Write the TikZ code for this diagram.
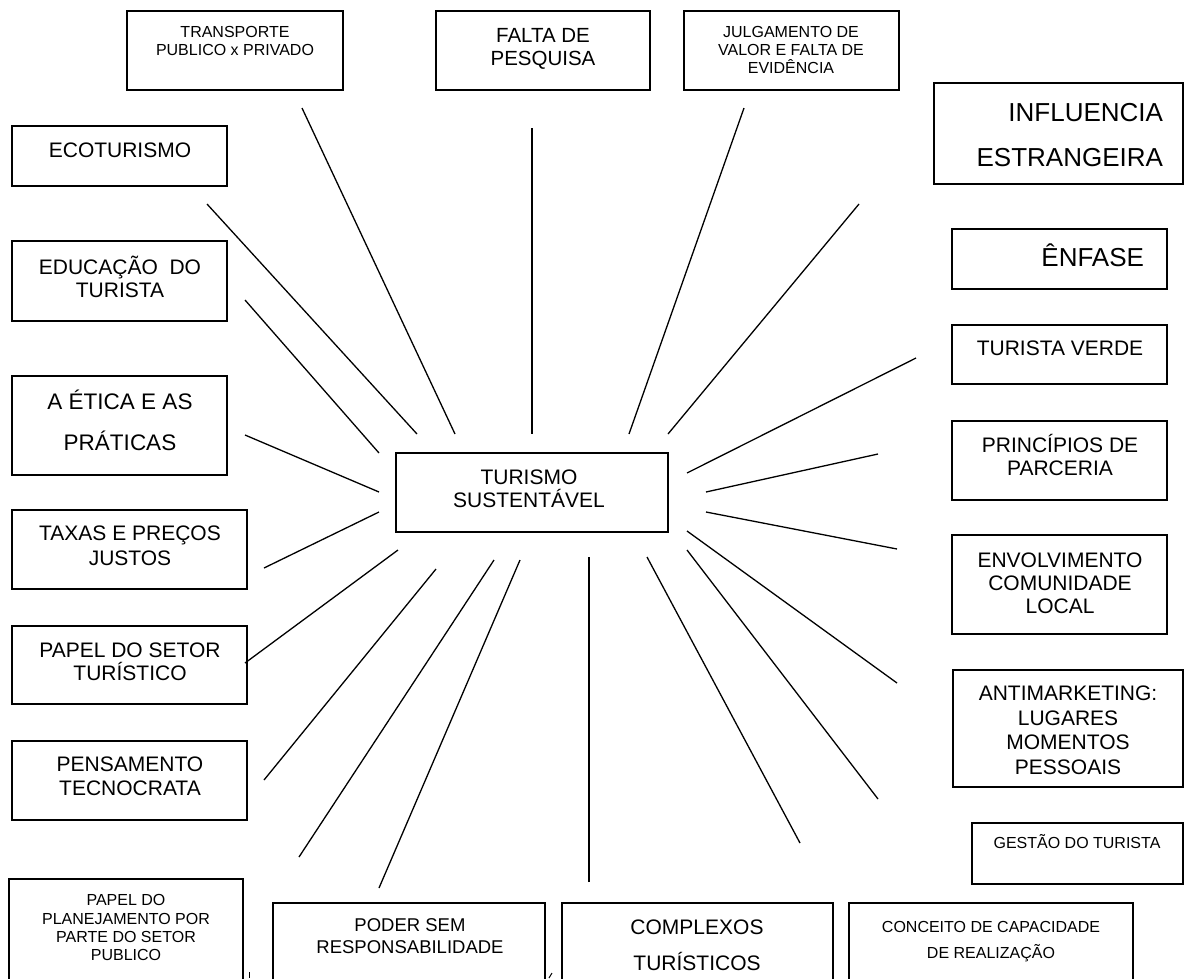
\documentclass[tikz,border=0pt]{standalone}
\usepackage{fontspec}
\setmainfont{Liberation Sans}
\begin{document}
\begin{tikzpicture}[x=1pt,y=-1pt,
  box/.style={draw=black, line width=2pt, rectangle, inner sep=0pt, outer sep=0pt, anchor=north west, fill=white},
  txt/.style={anchor=base, inner sep=0pt, outer sep=0pt, text=black},
  spoke/.style={draw=black, line width=1.3pt},
  tick/.style={draw=black, line width=1pt}]

\useasboundingbox (0,0) rectangle (1186,978);
\fill[white] (0,0) rectangle (1186,978);
\clip (0,0) rectangle (1186,978);

% one text line per node, starting from the first baseline
\newcommand{\boxtext}[7][]{%
  \foreach \ln [count=\k] in {#7} {
    \node[txt,#1,font=\fontsize{#6}{#6}\selectfont] (#2-\k) at (#3, {#4+(\k-1)*#5}) {\ln};
  }}

% ---------- boxes ----------
\node[box, minimum width=216pt, minimum height=79pt]  (trans)  at (127,11)  {};
\node[box, minimum width=214pt, minimum height=79pt]  (falta)  at (436,11)  {};
\node[box, minimum width=215pt, minimum height=79pt]  (julg)   at (684,11)  {};
\node[box, minimum width=249pt, minimum height=101pt] (infl)   at (934,83)  {};
\node[box, minimum width=215pt, minimum height=60pt]  (enf)    at (952,229) {};
\node[box, minimum width=215pt, minimum height=59pt]  (verde)  at (952,325) {};
\node[box, minimum width=215pt, minimum height=79pt]  (parc)   at (952,421) {};
\node[box, minimum width=215pt, minimum height=99pt]  (envol)  at (952,535) {};
\node[box, minimum width=230pt, minimum height=117pt] (anti)   at (953,670) {};
\node[box, minimum width=211pt, minimum height=61pt]  (gest)   at (972,823) {};
\node[box, minimum width=284pt, minimum height=90pt]  (conc)   at (849,903) {};
\node[box, minimum width=271pt, minimum height=90pt]  (compl)  at (562,903) {};
\node[box, minimum width=272pt, minimum height=90pt]  (poder)  at (273,903) {};
\node[box, minimum width=234pt, minimum height=110pt] (plan)   at (9,879)   {};
\node[box, minimum width=235pt, minimum height=79pt]  (pens)   at (12,741)  {};
\node[box, minimum width=235pt, minimum height=78pt]  (papel)  at (12,626)  {};
\node[box, minimum width=235pt, minimum height=79pt]  (taxas)  at (12,510)  {};
\node[box, minimum width=215pt, minimum height=99pt]  (etica)  at (12,376)  {};
\node[box, minimum width=215pt, minimum height=80pt]  (educ)   at (12,241)  {};
\node[box, minimum width=215pt, minimum height=60pt]  (eco)    at (12,126)  {};
\node[box, minimum width=272pt, minimum height=79pt]  (centro) at (396,453) {};

% ---------- texts ----------
\boxtext{trans-t}{235}{37.7}{18}{16}{TRANSPORTE,PUBLICO x PRIVADO}
\boxtext{falta-t}{543}{42.3}{23}{20.5}{FALTA DE,PESQUISA}
\boxtext{julg-t}{791}{37.7}{18}{16}{JULGAMENTO DE,VALOR E FALTA DE,EVIDÊNCIA}
\boxtext[anchor=base east]{infl-t}{1163}{121.3}{45}{26}{INFLUENCIA,ESTRANGEIRA}
\boxtext[anchor=base east]{enf-t}{1144}{266.3}{0}{26}{ÊNFASE}
\boxtext{verde-t}{1060}{355.5}{0}{21}{TURISTA VERDE}
\boxtext{parc-t}{1060}{452.5}{23}{21}{PRINCÍPIOS DE,PARCERIA}
\boxtext{envol-t}{1060}{567.5}{23}{21}{ENVOLVIMENTO,COMUNIDADE,LOCAL}
\boxtext{anti-t}{1068}{700.5}{24.7}{21}{ANTIMARKETING:,LUGARES,MOMENTOS,PESSOAIS}
\boxtext{gest-t}{1077}{848.7}{0}{16}{GESTÃO DO TURISTA}
\boxtext{conc-t}{991}{932.7}{26}{16}{CONCEITO DE CAPACIDADE,DE REALIZAÇÃO}
\boxtext{compl-t}{697}{934.5}{36}{21}{COMPLEXOS,TURÍSTICOS}
\boxtext{poder-t}{410}{931.6}{22}{18.5}{PODER SEM,RESPONSABILIDADE}
\boxtext{plan-t}{126}{905.7}{18.3}{16}{PAPEL DO,PLANEJAMENTO POR,PARTE DO SETOR,PUBLICO}
\boxtext{pens-t}{130}{771.5}{24}{21}{PENSAMENTO,TECNOCRATA}
\boxtext{papel-t}{130}{657.5}{23}{21}{PAPEL DO SETOR,TURÍSTICO}
\boxtext{taxas-t}{130}{540.5}{24.5}{21}{TAXAS E PREÇOS,JUSTOS}
\boxtext{etica-t}{120}{409}{41}{22.5}{A ÉTICA E AS,PRÁTICAS}
\boxtext{educ-t}{120}{274.5}{23}{21}{EDUCAÇÃO\ \ DO,TURISTA}
\boxtext{eco-t}{120}{157.5}{0}{21}{ECOTURISMO}
\boxtext{centro-t}{529}{484.5}{23}{21}{TURISMO,SUSTENTÁVEL}

% ---------- spoke end points ----------
\coordinate (s-trans-a) at (302,108);  \coordinate (s-trans-b) at (455,434);
\coordinate (s-eco-a)   at (207,204);  \coordinate (s-eco-b)   at (417,434);
\coordinate (s-educ-a)  at (245,300);  \coordinate (s-educ-b)  at (379,453);
\coordinate (s-falta-a) at (532,128);  \coordinate (s-falta-b) at (532,434);
\coordinate (s-julg-a)  at (744,108);  \coordinate (s-julg-b)  at (629,434);
\coordinate (s-infl-a)  at (859,204);  \coordinate (s-infl-b)  at (668,434);
\coordinate (s-etica-a) at (245,435);  \coordinate (s-etica-b) at (379,492);
\coordinate (s-taxas-a) at (264,568);  \coordinate (s-taxas-b) at (379,512);
\coordinate (s-papel-a) at (245,663);  \coordinate (s-papel-b) at (398,550);
\coordinate (s-pens-a)  at (264,780);  \coordinate (s-pens-b)  at (436,569);
\coordinate (s-plan-a)  at (299,857);  \coordinate (s-plan-b)  at (494,560);
\coordinate (s-poder-a) at (379,888);  \coordinate (s-poder-b) at (520,560);
\coordinate (s-compl-a) at (589,882);  \coordinate (s-compl-b) at (589,557);
\coordinate (s-conc-a)  at (800,843);  \coordinate (s-conc-b)  at (647,557);
\coordinate (s-gest-a)  at (878,799);  \coordinate (s-gest-b)  at (687,550);
\coordinate (s-anti-a)  at (897,683);  \coordinate (s-anti-b)  at (687,531);
\coordinate (s-envol-a) at (897,549);  \coordinate (s-envol-b) at (706,512);
\coordinate (s-parc-a)  at (878,454);  \coordinate (s-parc-b)  at (706,492);
\coordinate (s-verde-a) at (916,358);  \coordinate (s-verde-b) at (687,473);

\foreach \s in {trans,eco,educ,falta,julg,infl,etica,taxas,papel,pens,plan,poder,compl,conc,gest,anti,envol,parc,verde}
  \draw[spoke] (s-\s-a) -- (s-\s-b);

% small strokes along the lower edge
\coordinate (m1-a) at (249,972); \coordinate (m1-b) at (249,978);
\coordinate (m2-a) at (552,973); \coordinate (m2-b) at (549,978);
\draw[tick] (m1-a) -- (m1-b);
\draw[tick] (m2-a) -- (m2-b);
\end{tikzpicture}
\end{document}
